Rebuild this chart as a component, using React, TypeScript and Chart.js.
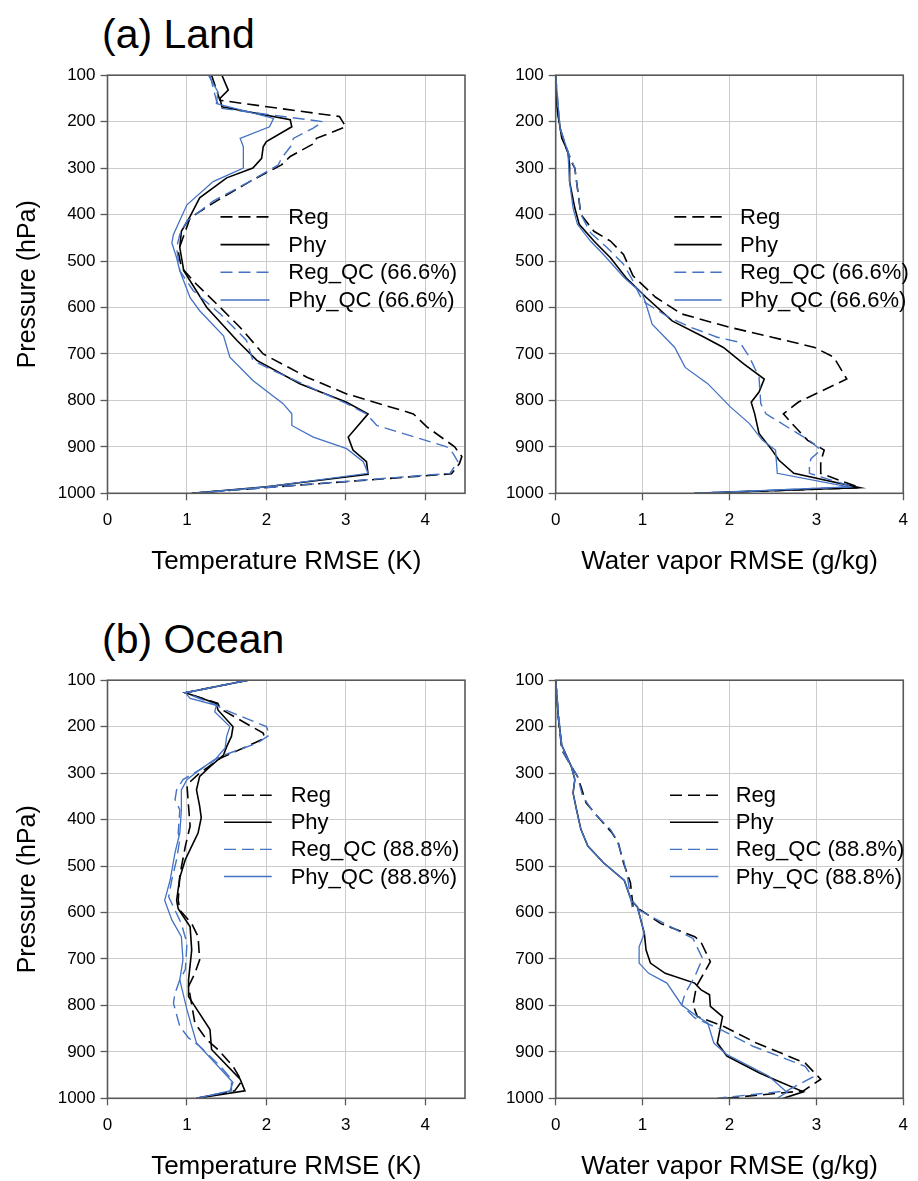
import React, { useEffect, useRef } from 'react';
import { Chart, registerables } from 'chart.js';

Chart.register(...registerables);
Chart.defaults.font.family = '"Liberation Sans", Arial, sans-serif';

// ---------- Land: temperature RMSE (K) ----------
const landTRegP = [100, 154, 189, 211, 236, 246, 275, 293, 329, 371, 407, 450, 479, 514, 550, 600, 643, 700, 750, 786, 829, 857, 900, 921, 936, 958, 987, 1000];
const landTRegV = [1.31, 1.415, 2.92, 3.0, 2.63, 2.61, 2.30, 2.19, 1.79, 1.37, 1.04, 0.95, 0.89, 0.93, 1.12, 1.42, 1.67, 1.96, 2.51, 3.01, 3.85, 4.02, 4.37, 4.46, 4.43, 4.33, 2.05, 1.06];
const landTPhyP = [100, 132, 150, 168, 196, 211, 243, 254, 279, 300, 321, 364, 404, 436, 471, 521, 600, 671, 714, 764, 804, 829, 879, 907, 932, 959, 986, 1000];
const landTPhyV = [1.44, 1.52, 1.415, 1.44, 2.30, 2.32, 2.0, 1.96, 1.94, 1.83, 1.50, 1.16, 1.04, 0.93, 0.91, 0.96, 1.25, 1.63, 1.88, 2.42, 3.01, 3.28, 3.03, 3.09, 3.26, 3.28, 2.0, 1.06];
const landTRegQcP = [100, 154, 171, 200, 214, 236, 250, 279, 293, 329, 371, 414, 443, 471, 521, 564, 614, 671, 714, 736, 807, 829, 854, 900, 914, 932, 957, 987, 1000];
const landTRegQcV = [1.29, 1.37, 1.415, 2.71, 2.59, 2.34, 2.32, 2.19, 2.15, 1.79, 1.33, 1.0, 0.91, 0.87, 0.91, 1.08, 1.42, 1.75, 1.83, 2.09, 3.01, 3.26, 3.39, 4.27, 4.35, 4.41, 4.31, 2.05, 1.06];
const landTPhyQcP = [100, 136, 161, 193, 211, 236, 254, 300, 329, 379, 443, 461, 493, 521, 579, 607, 661, 707, 757, 807, 829, 854, 879, 904, 932, 957, 986, 1000];
const landTPhyQcV = [1.27, 1.39, 1.37, 2.09, 2.04, 1.67, 1.71, 1.71, 1.33, 1.0, 0.83, 0.81, 0.87, 0.91, 1.04, 1.16, 1.46, 1.54, 1.83, 2.21, 2.32, 2.32, 2.59, 3.01, 3.22, 3.28, 2.0, 1.06];

// ---------- Land: water vapor RMSE (g/kg) ----------
const landWRegP = [100, 164, 214, 257, 286, 300, 343, 400, 436, 457, 486, 532, 578, 614, 643, 664, 686, 707, 754, 804, 829, 850, 886, 907, 932, 957, 988, 1000];
const landWRegV = [0, 0.01, 0.05, 0.12, 0.18, 0.22, 0.25, 0.29, 0.44, 0.63, 0.78, 0.89, 1.15, 1.45, 2.01, 2.49, 2.98, 3.20, 3.35, 2.79, 2.62, 2.72, 2.90, 3.09, 3.05, 3.05, 3.50, 1.60];
const landWPhyP = [100, 164, 236, 264, 293, 329, 386, 421, 457, 493, 536, 578, 629, 664, 686, 721, 754, 782, 804, 829, 871, 907, 929, 957, 988, 1000];
const landWPhyV = [0, 0.01, 0.07, 0.14, 0.16, 0.16, 0.22, 0.27, 0.44, 0.63, 0.81, 1.04, 1.34, 1.71, 1.93, 2.16, 2.40, 2.34, 2.25, 2.29, 2.34, 2.49, 2.57, 2.74, 3.50, 1.60];
const landWRegQcP = [100, 214, 264, 300, 343, 400, 439, 471, 507, 536, 586, 621, 643, 664, 675, 707, 750, 807, 829, 889, 907, 925, 936, 957, 986, 1000];
const landWRegQcV = [0, 0.05, 0.14, 0.22, 0.25, 0.29, 0.40, 0.59, 0.78, 0.87, 1.0, 1.30, 1.56, 1.86, 2.12, 2.23, 2.34, 2.36, 2.42, 2.94, 3.05, 2.94, 2.92, 2.92, 3.42, 1.60];
const landWPhyQcP = [100, 214, 264, 329, 386, 421, 457, 486, 536, 571, 593, 636, 686, 729, 764, 814, 850, 886, 907, 957, 986, 1000];
const landWPhyQcV = [0, 0.05, 0.14, 0.16, 0.20, 0.25, 0.40, 0.55, 0.79, 1.0, 1.04, 1.11, 1.37, 1.49, 1.75, 2.01, 2.23, 2.38, 2.53, 2.55, 3.37, 1.60];

// ---------- Ocean: temperature RMSE (K) ----------
const oceanTRegP = [100, 127, 150, 161, 214, 225, 243, 268, 300, 325, 371, 414, 457, 521, 573, 595, 624, 652, 702, 731, 759, 838, 874, 895, 931, 963, 984, 1000];
const oceanTRegV = [1.77, 0.98, 1.39, 1.415, 1.96, 1.98, 1.75, 1.42, 1.16, 1.0, 1.02, 1.04, 0.98, 0.91, 0.89, 0.91, 1.06, 1.14, 1.16, 1.10, 1.02, 1.10, 1.25, 1.39, 1.58, 1.69, 1.60, 1.12];
const oceanTPhyP = [100, 127, 150, 164, 200, 221, 243, 261, 286, 307, 336, 371, 396, 429, 450, 486, 525, 574, 592, 631, 681, 745, 781, 852, 895, 959, 984, 1000];
const oceanTPhyV = [1.77, 0.98, 1.37, 1.39, 1.58, 1.56, 1.50, 1.46, 1.29, 1.16, 1.12, 1.16, 1.18, 1.14, 1.08, 0.98, 0.91, 0.87, 0.89, 1.04, 1.06, 1.02, 1.02, 1.29, 1.31, 1.67, 1.73, 1.12];
const oceanTRegQcP = [100, 127, 154, 164, 200, 218, 236, 264, 293, 314, 336, 357, 379, 429, 443, 486, 529, 566, 588, 624, 666, 723, 745, 774, 795, 845, 870, 888, 931, 959, 984, 1000];
const oceanTRegQcV = [1.77, 0.98, 1.37, 1.48, 2.0, 2.04, 1.88, 1.42, 1.16, 0.95, 0.87, 0.85, 0.91, 0.89, 0.91, 0.87, 0.81, 0.77, 0.83, 0.93, 1.0, 0.98, 0.91, 0.85, 0.83, 0.91, 1.02, 1.16, 1.42, 1.56, 1.56, 1.12];
const oceanTPhyQcP = [100, 127, 139, 154, 168, 200, 221, 246, 268, 293, 314, 336, 379, 429, 471, 529, 574, 616, 652, 702, 745, 809, 881, 966, 984, 1000];
const oceanTPhyQcV = [1.77, 0.98, 1.04, 1.37, 1.35, 1.54, 1.50, 1.48, 1.37, 1.16, 1.0, 0.93, 0.93, 0.91, 0.85, 0.79, 0.72, 0.81, 0.93, 0.95, 0.91, 1.0, 1.12, 1.58, 1.54, 1.12];

// ---------- Ocean: water vapor RMSE (g/kg) ----------
const oceanWRegP = [100, 179, 250, 279, 307, 329, 364, 393, 429, 450, 493, 536, 588, 595, 624, 652, 663, 706, 759, 799, 824, 845, 881, 924, 959, 984, 1000];
const oceanWRegV = [0, 0.03, 0.07, 0.16, 0.25, 0.29, 0.35, 0.48, 0.65, 0.72, 0.78, 0.86, 0.89, 0.98, 1.21, 1.60, 1.67, 1.78, 1.62, 1.58, 1.63, 1.93, 2.31, 2.87, 3.05, 2.85, 1.95];
const oceanWPhyP = [100, 179, 240, 286, 314, 343, 379, 421, 457, 493, 531, 574, 588, 645, 681, 709, 731, 752, 766, 777, 802, 824, 881, 909, 945, 959, 986, 1000];
const oceanWPhyV = [0, 0.03, 0.07, 0.18, 0.22, 0.20, 0.24, 0.29, 0.37, 0.55, 0.79, 0.87, 0.94, 1.02, 1.04, 1.09, 1.26, 1.60, 1.67, 1.77, 1.78, 1.92, 1.86, 1.97, 2.34, 2.51, 2.85, 2.62];
const oceanWRegQcP = [100, 250, 279, 307, 350, 386, 421, 443, 486, 529, 588, 595, 616, 656, 699, 738, 774, 799, 827, 852, 888, 931, 954, 984, 1000];
const oceanWRegQcV = [0, 0.07, 0.16, 0.25, 0.31, 0.44, 0.63, 0.70, 0.78, 0.83, 0.88, 0.96, 1.17, 1.58, 1.69, 1.60, 1.49, 1.45, 1.60, 1.90, 2.27, 2.87, 2.96, 2.66, 1.86];
const oceanWPhyQcP = [100, 179, 240, 286, 314, 343, 379, 421, 457, 493, 531, 574, 588, 645, 674, 709, 731, 752, 799, 824, 838, 881, 906, 952, 987, 1000];
const oceanWPhyQcV = [0, 0.03, 0.07, 0.18, 0.22, 0.20, 0.24, 0.29, 0.37, 0.55, 0.79, 0.87, 0.94, 1.02, 0.96, 0.96, 1.07, 1.28, 1.45, 1.63, 1.75, 1.82, 1.97, 2.45, 2.66, 2.55];

// ---------- labels & ticks ----------
const landLabels = ['Reg', 'Phy', 'Reg_QC (66.6%)', 'Phy_QC (66.6%)'];
const oceanLabels = ['Reg', 'Phy', 'Reg_QC (88.8%)', 'Phy_QC (88.8%)'];
const pressureTicks = [100, 200, 300, 400, 500, 600, 700, 800, 900, 1000];
const tempTicks = [0, 1, 2, 3, 4];
const vaporTicks = [0, 1, 2, 3, 4];

const BLACK = '#000000';
const BLUE = '#4472C4';
const FONT = '"Liberation Sans", Arial, sans-serif';

const styles = [
  { color: BLACK, width: 1.6, dash: [12, 6], order: 3 },
  { color: BLACK, width: 1.6, dash: [] as number[], order: 2 },
  { color: BLUE, width: 1.4, dash: [12, 6], order: 1 },
  { color: BLUE, width: 1.3, dash: [] as number[], order: 0 },
];

const framePlugin = {
  id: 'frame',
  afterDatasetsDraw(chart: any) {
    const { ctx, chartArea: a } = chart;
    ctx.save();
    ctx.strokeStyle = '#595959';
    ctx.lineWidth = 1.6;
    ctx.strokeRect(a.left, a.top, a.right - a.left, a.bottom - a.top);
    ctx.restore();
  },
};

const legendPlugin = {
  id: 'inLegend',
  afterDraw(chart: any, _args: any, opts: any) {
    const { ctx, chartArea: a } = chart;
    chart.data.datasets.forEach((ds: any, i: number) => {
      const y = a.top + opts.y0 + i * opts.dy;
      ctx.save();
      ctx.strokeStyle = ds.borderColor;
      ctx.lineWidth = ds.borderWidth;
      ctx.setLineDash(ds.borderDash || []);
      ctx.beginPath();
      ctx.moveTo(a.left + opts.x1, y);
      ctx.lineTo(a.left + opts.x2, y);
      ctx.stroke();
      ctx.setLineDash([]);
      ctx.fillStyle = '#000';
      ctx.font = `22px ${FONT}`;
      ctx.textBaseline = 'middle';
      ctx.textAlign = 'left';
      ctx.fillText(ds.label, a.left + opts.tx, y + 1);
      ctx.restore();
    });
  },
};

type PanelProps = {
  left: number;
  top: number;
  width: number;
  yWidth: number;
  xMax: number;
  xTicks: number[];
  xTitle: string;
  yTitle: boolean;
  labels: string[];
  ps: number[][];
  vs: number[][];
  legend: { x1: number; x2: number; tx: number; y0: number; dy: number };
};

const CANVAS_H = 515;

function Panel(props: PanelProps) {
  const ref = useRef<HTMLCanvasElement>(null);
  useEffect(() => {
    const p = props;
    const datasets = p.labels.map((label, i) => ({
      label,
      data: p.ps[i].map((pr, k) => ({ x: p.vs[i][k], y: pr })),
      borderColor: styles[i].color,
      backgroundColor: styles[i].color,
      borderWidth: styles[i].width,
      borderDash: styles[i].dash,
      order: styles[i].order,
      showLine: true,
      pointRadius: 0,
      tension: 0,
      fill: false,
    }));
    const chart = new Chart(ref.current as HTMLCanvasElement, {
      type: 'scatter',
      data: { datasets },
      plugins: [framePlugin, legendPlugin],
      options: {
        responsive: false,
        animation: false,
        layout: { padding: { top: 13.3, right: 5, bottom: 0, left: 0 } },
        plugins: {
          legend: { display: false },
          tooltip: { enabled: false },
          inLegend: p.legend,
        } as any,
        scales: {
          x: {
            type: 'linear',
            position: 'bottom',
            min: 0,
            max: p.xMax,
            afterFit: (s: any) => { s.height = 81.7; },
            afterBuildTicks: (s: any) => { s.ticks = p.xTicks.map((v) => ({ value: v })); },
            ticks: { stepSize: 1, includeBounds: false, padding: 10, color: '#000', font: { size: 17, family: FONT }, callback: (v: any) => String(v) },
            grid: { color: '#cccccc', lineWidth: 1, drawTicks: true, tickLength: 7, tickColor: '#595959', tickWidth: 1.3 },
            border: { display: false },
            title: { display: true, text: p.xTitle, color: '#000', font: { size: 26, family: FONT, lineHeight: 1 }, padding: { top: 0, bottom: 0 } },
          },
          y: {
            type: 'linear',
            position: 'left',
            min: 100,
            max: 1000,
            reverse: true,
            afterFit: (s: any) => { s.width = p.yWidth; },
            afterBuildTicks: (s: any) => { s.ticks = pressureTicks.map((v) => ({ value: v })); },
            ticks: { stepSize: 100, padding: 5, color: '#000', font: { size: 17, family: FONT }, callback: (v: any) => String(v) },
            grid: { color: '#cccccc', lineWidth: 1, drawTicks: true, tickLength: 7, tickColor: '#595959', tickWidth: 1.3 },
            border: { display: false },
            title: { display: p.yTitle, text: 'Pressure (hPa)', color: '#000', font: { size: 25, family: FONT }, padding: { top: 13, bottom: 0 } },
          },
        },
      } as any,
    });
    return () => chart.destroy();
  }, []);
  return (
    <canvas
      ref={ref}
      width={props.width}
      height={CANVAS_H}
      style={{ position: 'absolute', left: props.left, top: props.top, width: props.width, height: CANVAS_H }}
    />
  );
}

const titleStyle: React.CSSProperties = {
  position: 'absolute',
  left: 102,
  fontFamily: FONT,
  fontSize: 41,
  lineHeight: '41px',
  color: '#000',
  whiteSpace: 'nowrap',
};

export default function App() {
  return (
    <div style={{ position: 'absolute', left: 0, top: 0, width: 918, height: 1181, overflow: 'hidden', background: '#fff' }}>
      <div style={{ ...titleStyle, top: 14 }}>(a) Land</div>
      <div style={{ ...titleStyle, top: 619 }}>(b) Ocean</div>
      <Panel
        left={0} top={60} width={470} yWidth={107.5} xMax={4.5} xTicks={tempTicks}
        xTitle="Temperature RMSE (K)" yTitle={true} labels={landLabels}
        ps={[landTRegP, landTPhyP, landTRegQcP, landTPhyQcP]}
        vs={[landTRegV, landTPhyV, landTRegQcV, landTPhyQcV]}
        legend={{ x1: 113, x2: 162, tx: 180.8, y0: 141.7, dy: 27.7 }}
      />
      <Panel
        left={470} top={60} width={448} yWidth={85.7} xMax={4} xTicks={vaporTicks}
        xTitle="Water vapor RMSE (g/kg)" yTitle={false} labels={landLabels}
        ps={[landWRegP, landWPhyP, landWRegQcP, landWPhyQcP]}
        vs={[landWRegV, landWPhyV, landWRegQcV, landWPhyQcV]}
        legend={{ x1: 118.6, x2: 166, tx: 184.3, y0: 141.7, dy: 27.7 }}
      />
      <Panel
        left={0} top={665} width={470} yWidth={107.5} xMax={4.5} xTicks={tempTicks}
        xTitle="Temperature RMSE (K)" yTitle={true} labels={oceanLabels}
        ps={[oceanTRegP, oceanTPhyP, oceanTRegQcP, oceanTPhyQcP]}
        vs={[oceanTRegV, oceanTPhyV, oceanTRegQcV, oceanTPhyQcV]}
        legend={{ x1: 116.5, x2: 164.2, tx: 183.2, y0: 115, dy: 27.1 }}
      />
      <Panel
        left={470} top={665} width={448} yWidth={85.7} xMax={4} xTicks={vaporTicks}
        xTitle="Water vapor RMSE (g/kg)" yTitle={false} labels={oceanLabels}
        ps={[oceanWRegP, oceanWPhyP, oceanWRegQcP, oceanWPhyQcP]}
        vs={[oceanWRegV, oceanWPhyV, oceanWRegQcV, oceanWPhyQcV]}
        legend={{ x1: 114.3, x2: 162.6, tx: 180, y0: 115, dy: 27.1 }}
      />
    </div>
  );
}
